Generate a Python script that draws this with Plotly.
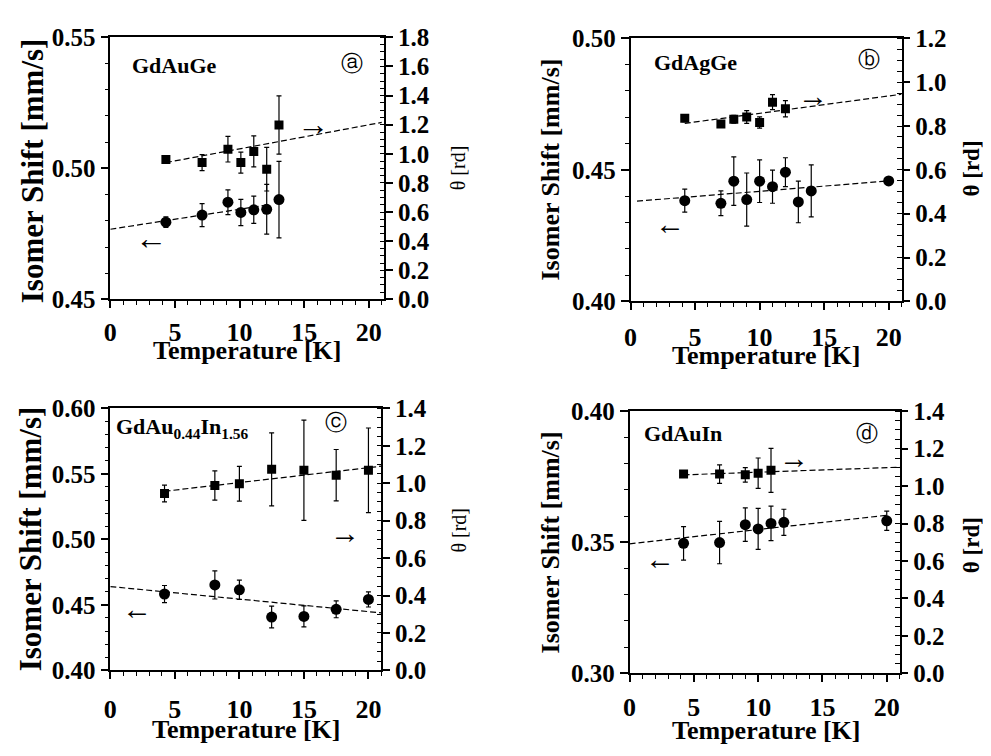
import plotly.graph_objects as go

# Browser body margin is 8px: the figure is drawn 8px in from the top-left corner.
OFF = 8
W, H = 991 - 2 * OFF, 756 - 2 * OFF
FONT = "Liberation Serif, Times New Roman, serif"

# ---------------- data ----------------
# Panel a: GdAuGe
a_T = [4.3, 7.1, 9.1, 10.1, 11.1, 12.1, 13.05]
a_is = [0.4795, 0.4822, 0.4871, 0.4832, 0.4842, 0.4844, 0.4881]
a_is_err = [0.002, 0.0044, 0.0047, 0.005, 0.0052, 0.0095, 0.0146]
a_th = [0.962, 0.94, 1.032, 0.94, 1.017, 0.895, 1.198]
a_th_err = [0.015, 0.055, 0.088, 0.072, 0.106, 0.15, 0.2]
a_fit_is_T = [0, 12.2]
a_fit_is = [0.4768, 0.4861]
a_fit_th_T = [4.3, 21]
a_fit_th = [0.94, 1.216]

# Panel b: GdAgGe
b_T_is = [4.2, 7, 8, 9, 10, 11, 12, 13, 14, 20]
b_is = [0.4383, 0.4373, 0.4457, 0.4387, 0.4457, 0.4436, 0.4491, 0.4378, 0.442, 0.4458]
b_is_err = [0.0044, 0.0047, 0.0092, 0.0101, 0.0081, 0.0063, 0.0055, 0.0079, 0.0099, 0]
b_T_th = [4.2, 7, 8, 9, 10, 11, 12]
b_th = [0.835, 0.809, 0.831, 0.841, 0.816, 0.909, 0.879]
b_th_err = [0.015, 0.01, 0.018, 0.029, 0.026, 0.034, 0.037]
b_fit_is_T = [0.5, 20]
b_fit_is = [0.4381, 0.4458]
b_fit_th_T = [4.2, 21]
b_fit_th = [0.812, 0.945]

# Panel c: GdAu0.44In1.56
c_T = [4.2, 8.1, 10, 12.5, 15, 17.5, 20]
c_is = [0.4583, 0.4652, 0.4615, 0.4407, 0.4412, 0.4466, 0.4542]
c_is_err = [0.0065, 0.0107, 0.0074, 0.0083, 0.008, 0.0064, 0.0058]
c_th = [0.945, 0.988, 0.997, 1.074, 1.069, 1.043, 1.069]
c_th_err = [0.045, 0.078, 0.093, 0.195, 0.268, 0.137, 0.226]
c_fit_is_T = [0, 21]
c_fit_is = [0.4640, 0.4439]
c_fit_th_T = [4.2, 21]
c_fit_th = [0.957, 1.091]

# Panel d: GdAuIn
d_T_is = [4.2, 7, 9, 10, 11, 12, 20]
d_is = [0.3496, 0.3499, 0.3567, 0.3551, 0.3572, 0.3576, 0.3582]
d_is_err = [0.0064, 0.0081, 0.0064, 0.0078, 0.0066, 0.005, 0.0037]
d_T_th = [4.2, 7, 9, 10, 11]
d_th = [1.064, 1.064, 1.06, 1.069, 1.084]
d_th_err = [0.0, 0.049, 0.039, 0.081, 0.118]
d_fit_is_T = [0, 20]
d_fit_is = [0.3494, 0.3603]
d_fit_th_T = [4.2, 21]
d_fit_th = [1.060, 1.101]

x_ticks = [0, 5, 10, 15, 20]

panels = [
    dict(T_is=a_T, iso=a_is, iso_err=a_is_err, T_th=a_T, th=a_th, th_err=a_th_err,
         fis_T=a_fit_is_T, fis=a_fit_is, fth_T=a_fit_th_T, fth=a_fit_th,
         yl=[0.45, 0.55], yr=[0, 1.8], box=(104, 380, 25, 297), xr=[0, 21.2], xstand=2),
    dict(T_is=b_T_is, iso=b_is, iso_err=b_is_err, T_th=b_T_th, th=b_th, th_err=b_th_err,
         fis_T=b_fit_is_T, fis=b_fit_is, fth_T=b_fit_th_T, fth=b_fit_th,
         yl=[0.40, 0.50], yr=[0, 1.2], box=(628, 901, 26, 299), xr=[0, 21], xstand=5),
    dict(T_is=c_T, iso=c_is, iso_err=c_is_err, T_th=c_T, th=c_th, th_err=c_th_err,
         fis_T=c_fit_is_T, fis=c_fit_is, fth_T=c_fit_th_T, fth=c_fit_th,
         yl=[0.40, 0.60], yr=[0, 1.4], box=(104, 377, 410, 682), xr=[0, 21], xstand=8),
    dict(T_is=d_T_is, iso=d_is, iso_err=d_is_err, T_th=d_T_th, th=d_th, th_err=d_th_err,
         fis_T=d_fit_is_T, fis=d_fit_is, fth_T=d_fit_th_T, fth=d_fit_th,
         yl=[0.30, 0.40], yr=[0, 1.4], box=(627, 899, 413, 685), xr=[0, 21], xstand=3),
]


def fx(px):
    return (px - OFF) / W


def fy(py):
    return 1 - (py - OFF) / H


fig = go.Figure()
layout = {}
ytickfont = dict(family=FONT, size=25, color="black", weight="bold")
xtickfont = dict(family=FONT, size=26, color="black", weight="bold")
DASH = "6px,3px"

for i, p in enumerate(panels):
    xn = "x" if i == 0 else f"x{i+1}"
    yl = "y" if i == 0 else f"y{2*i+1}"
    yr = f"y{2*i+2}"
    x0, x1, y0, y1 = p["box"]
    xdom = [fx(x0), fx(x1)]
    ydom = [fy(y1), fy(y0)]
    # fits
    fig.add_trace(go.Scatter(x=p["fis_T"], y=p["fis"], mode="lines", xaxis=xn, yaxis=yl,
                             line=dict(color="black", width=1.2, dash=DASH), showlegend=False))
    fig.add_trace(go.Scatter(x=p["fth_T"], y=p["fth"], mode="lines", xaxis=xn, yaxis=yr,
                             line=dict(color="black", width=1.2, dash=DASH), showlegend=False))
    # data
    fig.add_trace(go.Scatter(x=p["T_is"], y=p["iso"], mode="markers", xaxis=xn, yaxis=yl,
                             marker=dict(symbol="circle", size=11, color="black"),
                             error_y=dict(type="data", array=p["iso_err"], color="black",
                                          thickness=1.2, width=2.5),
                             showlegend=False))
    fig.add_trace(go.Scatter(x=p["T_th"], y=p["th"], mode="markers", xaxis=xn, yaxis=yr,
                             marker=dict(symbol="square", size=9, color="black"),
                             error_y=dict(type="data", array=p["th_err"], color="black",
                                          thickness=1.2, width=2.5),
                             showlegend=False))
    xkey = "xaxis" if i == 0 else f"xaxis{i+1}"
    ylkey = "yaxis" if i == 0 else f"yaxis{2*i+1}"
    yrkey = f"yaxis{2*i+2}"
    layout[xkey] = dict(domain=xdom, anchor=yl, range=p["xr"], tickvals=x_ticks,
                        showline=True, linecolor="black", linewidth=1.5, mirror=True,
                        ticks="outside", ticklen=7, tickwidth=1.5, tickcolor="black",
                        ticklabelstandoff=p["xstand"],
                        minor=dict(dtick=1, tick0=0, ticks="outside", ticklen=4,
                                   tickwidth=1.2, tickcolor="black"),
                        showgrid=False, zeroline=False, tickfont=xtickfont)
    layout[ylkey] = dict(domain=ydom, anchor=xn, range=p["yl"], dtick=0.05, tick0=0,
                         tickformat=".2f", side="left",
                         showline=True, linecolor="black", linewidth=1.5,
                         ticks="outside", ticklen=8, tickwidth=1.5, tickcolor="black",
                         minor=dict(dtick=0.01, ticks="outside", ticklen=4,
                                    tickwidth=1.2, tickcolor="black"),
                         showgrid=False, zeroline=False, tickfont=ytickfont)
    layout[yrkey] = dict(domain=ydom, anchor=xn, overlaying=yl, side="right",
                         range=p["yr"], dtick=0.2, tick0=0, tickformat=".1f",
                         showline=True, linecolor="black", linewidth=1.5,
                         ticks="outside", ticklen=7, tickwidth=1.5, tickcolor="black",
                         minor=dict(dtick=0.05, ticks="inside", ticklen=5,
                                    tickwidth=1.2, tickcolor="black"),
                         showgrid=False, zeroline=False, tickfont=ytickfont)


annotations = []


def add_text(text, px, py, size, bold=True, angle=0, xanchor="center", yanchor="middle"):
    annotations.append(dict(text=text, x=fx(px), y=fy(py), xref="paper", yref="paper",
                            showarrow=False, textangle=angle, xanchor=xanchor,
                            yanchor=yanchor, borderpad=0,
                            font=dict(family=FONT, size=size, color="black",
                                      weight="bold" if bold else "normal")))


# axis titles
add_text("Isomer Shift [mm/s]", 25, 163, 31, angle=-90)
add_text("Isomer Shift [mm/s]", 547, 162, 26, angle=-90)
add_text("Isomer Shift [mm/s]", 24, 545, 31, angle=-90)
add_text("Isomer Shift [mm/s]", 547, 549, 26, angle=-90)
add_text("θ [rd]", 455, 160, 20, bold=False, angle=-90)
add_text("θ [rd]", 455, 536, 20, bold=False, angle=-90)
add_text("θ [rd]", 971, 161, 23, angle=-90)
add_text("θ [rd]", 971, 552, 23, angle=-90)
add_text("Temperature [K]", 242, 350, 26)
add_text("Temperature [K]", 764, 355, 26)
add_text("Temperature [K]", 241, 743, 26)
add_text("Temperature [K]", 764, 744, 26)

# compound labels
add_text("GdAuGe", 125, 54, 22, xanchor="left")
add_text("GdAgGe", 651, 51, 22, xanchor="left")
add_text("GdAu<sub>0.44</sub>In<sub>1.56</sub>", 109, 430, 22, xanchor="left")
add_text("GdAuIn", 641, 436, 22, xanchor="left")

# circled panel letters
add_text("ⓐ", 347, 52, 22, bold=False)
add_text("ⓑ", 868, 48, 22, bold=False)
add_text("ⓒ", 331, 425, 22, bold=False)
add_text("ⓓ", 866, 436, 22, bold=False)

# arrows indicating the axis
add_text("→", 308, 115, 32)
add_text("←", 145, 233, 32)
add_text("→", 812, 85, 30, bold=False)
add_text("←", 668, 218, 30, bold=False)
add_text("→", 340, 539, 30, bold=False)
add_text("←", 131, 618, 30, bold=False)
add_text("→", 793, 461, 30, bold=False)
add_text("←", 658, 566, 30, bold=False)

layout["annotations"] = annotations
fig.update_layout(**layout)
fig.update_layout(width=W, height=H, margin=dict(l=0, r=0, t=0, b=0),
                  font=dict(family=FONT, color="black"),
                  paper_bgcolor="white", plot_bgcolor="white", showlegend=False)

fig.write_html("out.html")
